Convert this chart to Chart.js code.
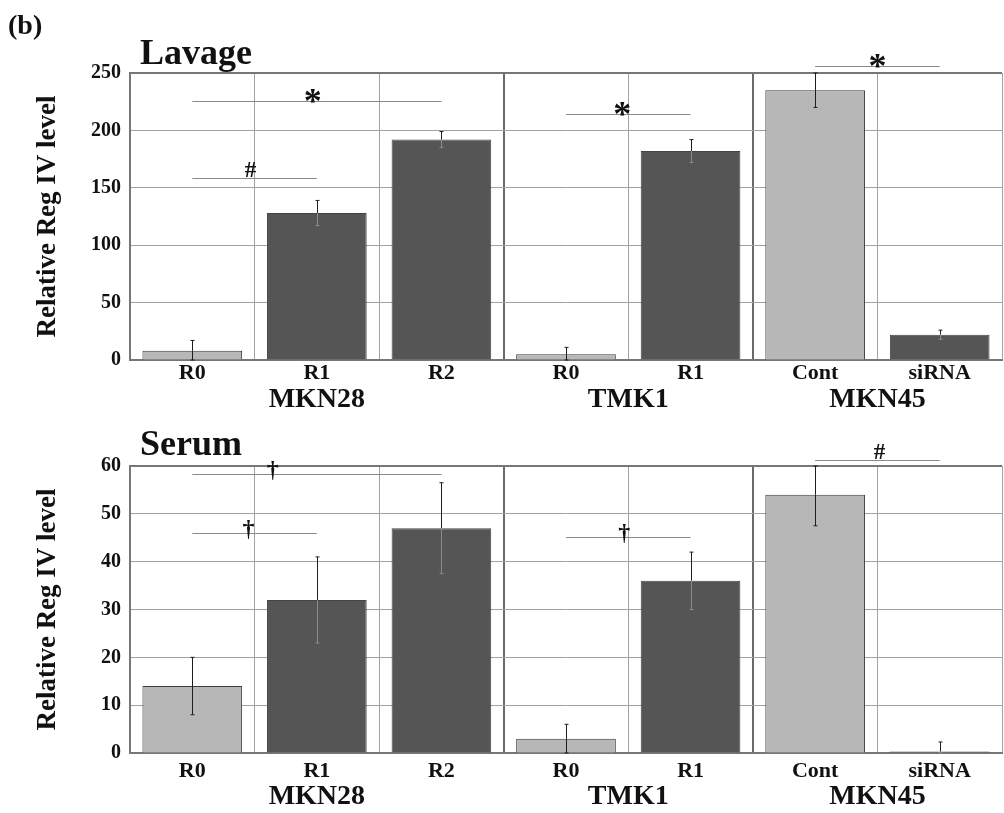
<!DOCTYPE html>
<html>
<head>
<meta charset="utf-8">
<script src="https://cdn.jsdelivr.net/npm/chart.js@4.4.1/dist/chart.umd.min.js"></script>
<style>
  html, body { margin: 0; padding: 0; background: #ffffff; }
  #wrap { position: relative; width: 1004px; height: 813px; overflow: hidden; background: #fff; }
  #c1 { position: absolute; left: 0; top: 0; }
  #c2 { position: absolute; left: 0; top: 415px; }
</style>
</head>
<body>
<div id="wrap">
  <canvas id="c1" width="1004" height="415"></canvas>
  <canvas id="c2" width="1004" height="398"></canvas>
</div>
<script>
// ---------------- DATA ----------------
const categories = ['R0', 'R1', 'R2', 'R0', 'R1', 'Cont', 'siRNA'];
const groupNames = ['MKN28', 'TMK1', 'MKN45'];
const groupFirst = [0, 3, 5];
const groupLast  = [2, 4, 6];
const barShade   = ['light', 'dark', 'dark', 'light', 'dark', 'light', 'dark'];

const lavageValues = [8, 128, 192, 5, 182, 235, 22];
const lavageErrors = [9, 11, 7, 6, 10, 15, 4];
const lavageMax = 250;
const lavageStep = 50;

const serumValues = [14, 32, 47, 3, 36, 54, 0.3];
const serumErrors = [6, 9, 9.5, 3, 6, 6.5, 2];
const serumMax = 60;
const serumStep = 10;

// significance brackets: from category, to category, level (data units), mark
const lavageSigFrom  = [0, 0, 3, 5];
const lavageSigTo    = [2, 1, 4, 6];
const lavageSigLevel = [225.6, 158.5, 214, 256];
const lavageSigMark  = ['*', '#', '*', '*'];

const serumSigFrom  = [0, 0, 3, 5];
const serumSigTo    = [2, 1, 4, 6];
const serumSigLevel = [58.4, 46, 45.2, 61.3];
const serumSigMark  = ['\u2020', '\u2020', '\u2020', '#'];

// ---------------- STYLE ----------------
const SERIF = "'Liberation Serif', 'Times New Roman', serif";
const LIGHT = '#b7b7b7';
const DARK = '#555555';
const FRAME = '#777777';
const GRID = '#a2a2a2';
const lavageMarkDx = [-4, -4, -6, 0];
const serumMarkDx = [-44, -6, -4, 2];

Chart.defaults.font.family = SERIF;
Chart.defaults.animation = false;

function makePanel(canvasId, cfg) {
  const errorBars = {
    id: 'errorBars' + canvasId,
    afterDatasetsDraw(chart) {
      const ctx = chart.ctx;
      const ys = chart.scales.y;
      const meta = chart.getDatasetMeta(0);
      ctx.save();
      ctx.lineWidth = 1;
      meta.data.forEach((bar, i) => {
        const v = cfg.values[i], e = cfg.errors[i];
        const x = Math.round(bar.x) + 0.5;
        const yV = ys.getPixelForValue(v);
        const yT = ys.getPixelForValue(Math.min(cfg.max, v + e));
        const yB = ys.getPixelForValue(Math.max(0, v - e));
        ctx.strokeStyle = '#1e1e1e';
        ctx.beginPath();
        ctx.moveTo(x, yV); ctx.lineTo(x, yT);
        ctx.moveTo(x - 2, yT); ctx.lineTo(x + 2, yT);
        ctx.stroke();
        ctx.strokeStyle = barShade[i] === 'dark' ? '#8c8c8c' : '#1e1e1e';
        ctx.beginPath();
        ctx.moveTo(x, yV); ctx.lineTo(x, yB);
        ctx.moveTo(x - 2, yB); ctx.lineTo(x + 2, yB);
        ctx.stroke();
      });
      ctx.restore();
    }
  };

  const annotations = {
    id: 'annot' + canvasId,
    afterDraw(chart) {
      const ctx = chart.ctx;
      const xs = chart.scales.x, ys = chart.scales.y;
      ctx.save();
      // panel title
      ctx.fillStyle = '#111';
      ctx.textAlign = 'left';
      ctx.textBaseline = 'alphabetic';
      ctx.font = 'bold 36px ' + SERIF;
      ctx.fillText(cfg.title, 140, cfg.titleBaseline);
      if (cfg.label) {
        ctx.font = 'bold 28px ' + SERIF;
        ctx.fillText(cfg.label, 8, 34);
      }
      // group labels
      ctx.textAlign = 'center';
      ctx.textBaseline = 'middle';
      ctx.font = 'bold 28px ' + SERIF;
      groupNames.forEach((g, k) => {
        const half = (xs.getPixelForValue(1) - xs.getPixelForValue(0)) / 2;
        const a = xs.getPixelForValue(groupFirst[k]) - half;
        const b = xs.getPixelForValue(groupLast[k]) + half;
        ctx.fillText(g, (a + b) / 2, chart.chartArea.bottom + cfg.groupOffset);
      });
      // significance brackets
      cfg.sigFrom.forEach((f, k) => {
        const x1 = xs.getPixelForValue(f);
        const x2 = xs.getPixelForValue(cfg.sigTo[k]);
        const y = Math.round(ys.getPixelForValue(cfg.sigLevel[k])) + 0.5;
        ctx.strokeStyle = '#8a8a8a';
        ctx.lineWidth = 1;
        ctx.beginPath();
        ctx.moveTo(x1, y); ctx.lineTo(x2, y);
        ctx.stroke();
        const m = cfg.sigMark[k];
        ctx.fillStyle = '#111';
        let size = 23, dy = -7;
        if (m === '*') { size = 36; dy = 2; }
        if (m === '\u2020') { size = 24; dy = -4; }
        ctx.font = 'bold ' + size + 'px ' + SERIF;
        ctx.textBaseline = 'middle';
        ctx.fillText(m, (x1 + x2) / 2 + cfg.markDx[k], y + dy);
      });
      ctx.restore();
    }
  };

  return new Chart(document.getElementById(canvasId), {
    type: 'bar',
    data: {
      labels: categories,
      datasets: [{
        data: cfg.values,
        backgroundColor: barShade.map(s => s === 'dark' ? DARK : LIGHT),
        borderColor: barShade.map(s => s === 'dark' ? '#444' : '#3c3c3c'),
        borderWidth: 1,
        categoryPercentage: 1.0,
        barPercentage: 0.8
      }]
    },
    options: {
      responsive: false,
      maintainAspectRatio: false,
      animation: false,
      layout: { padding: { left: 0, right: 2, top: cfg.padTop, bottom: 0 } },
      plugins: { legend: { display: false }, tooltip: { enabled: false }, title: { display: false } },
      scales: {
        x: {
          grid: {
            offset: true,
            drawTicks: false,
            color: c => (c.index === 3 || c.index === 5) ? '#6a6a6a' : (c.index === 7 ? FRAME : GRID),
            lineWidth: c => (c.index === 3 || c.index === 5 || c.index === 7) ? 2 : 1
          },
          border: { color: FRAME, width: 2 },
          ticks: {
            color: '#111',
            padding: cfg.tickPad,
            font: { size: 22, weight: 'bold', family: SERIF }
          },
          afterFit: s => { s.height = cfg.xHeight; }
        },
        y: {
          min: 0,
          max: cfg.max,
          ticks: {
            stepSize: cfg.step,
            color: '#111',
            padding: 9,
            font: { size: 20, weight: 'bold', family: SERIF }
          },
          grid: {
            drawTicks: false,
            color: c => (c.tick && c.tick.value === cfg.max) ? FRAME : GRID,
            lineWidth: c => (c.tick && c.tick.value === cfg.max) ? 2 : 1
          },
          border: { color: FRAME, width: 2 },
          title: {
            display: true,
            text: 'Relative Reg IV level',
            color: '#111',
            font: { size: 27, weight: 'bold', family: SERIF, lineHeight: 1.2 },
            padding: { top: 32, bottom: 0 }
          },
          afterFit: s => { s.width = 130; }
        }
      }
    },
    plugins: [errorBars, annotations]
  });
}

makePanel('c1', {
  values: lavageValues, errors: lavageErrors, max: lavageMax, step: lavageStep,
  sigFrom: lavageSigFrom, sigTo: lavageSigTo, sigLevel: lavageSigLevel, sigMark: lavageSigMark,
  markDx: lavageMarkDx,
  title: 'Lavage', titleBaseline: 64, label: '(b)',
  padTop: 73, xHeight: 55, tickPad: 0, groupOffset: 40
});

makePanel('c2', {
  values: serumValues, errors: serumErrors, max: serumMax, step: serumStep,
  sigFrom: serumSigFrom, sigTo: serumSigTo, sigLevel: serumSigLevel, sigMark: serumSigMark,
  markDx: serumMarkDx,
  title: 'Serum', titleBaseline: 40, label: null,
  padTop: 51, xHeight: 60, tickPad: 5, groupOffset: 44
});
</script>
</body>
</html>
